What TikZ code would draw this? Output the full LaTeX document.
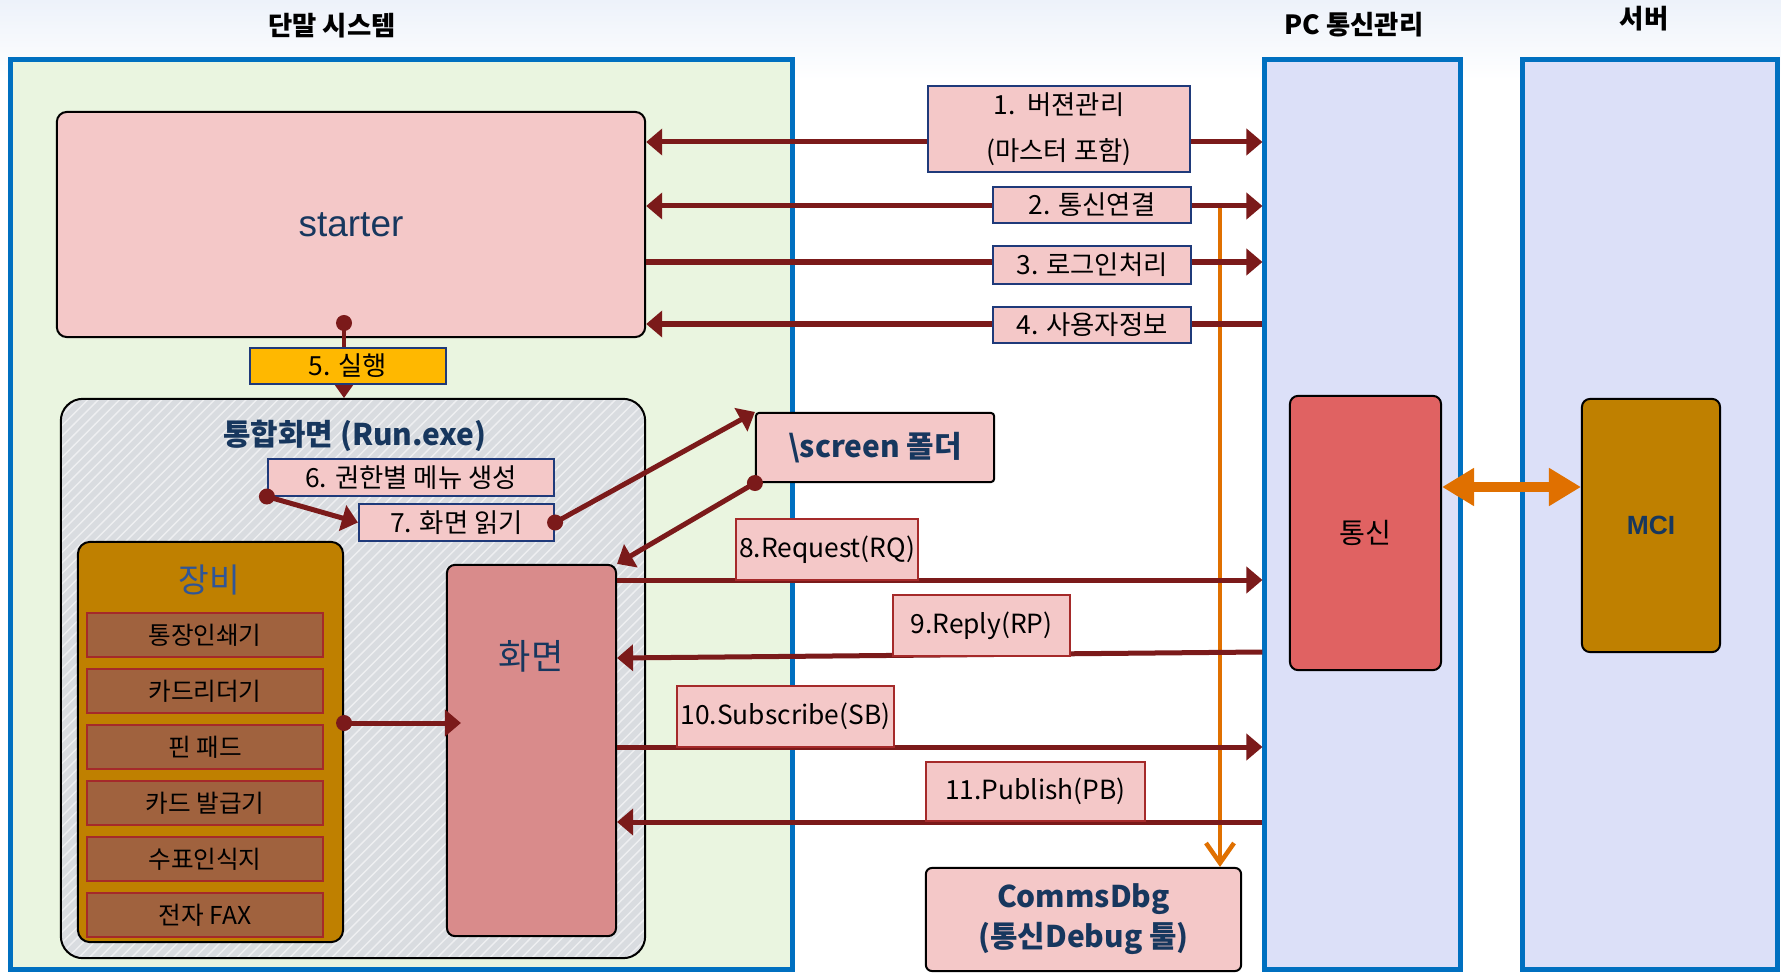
\documentclass[tikz,border=0pt]{standalone}
\usepackage{fontspec}
\setmainfont{Noto Sans CJK KR}
\newfontfamily\arialfont{Liberation Sans}
\usepackage{xcolor}
\usetikzlibrary{arrows.meta,patterns}

\definecolor{panelblue}{HTML}{0070C0}
\definecolor{termgreen}{HTML}{EAF5E0}
\definecolor{pclilac}{HTML}{DCE0F8}
\definecolor{boxpink}{HTML}{F4C8C8}
\definecolor{flowred}{HTML}{7B1A1A}
\definecolor{labelnavy}{HTML}{1F3A7A}
\definecolor{textnavy}{HTML}{17375E}
\definecolor{devblue}{HTML}{2F5597}
\definecolor{runamber}{HTML}{FFB800}
\definecolor{hatchgray}{HTML}{D9DCE0}
\definecolor{devgold}{HTML}{BF8000}
\definecolor{itembrown}{HTML}{A0623E}
\definecolor{itemred}{HTML}{A52A2A}
\definecolor{screenrose}{HTML}{D98B8B}
\definecolor{commred}{HTML}{E06262}
\definecolor{debugorange}{HTML}{E07000}
\definecolor{headsky}{HTML}{EDF2FA}

\begin{document}
\begin{tikzpicture}[x=0.01cm, y=-0.01cm, >={Triangle[length=0.16cm,width=0.26cm]},
    panelbox/.style={draw=panelblue, line width=0.05cm, inner sep=0pt, minimum height=9.09cm},
    titletext/.style={font=\fontsize{7.5}{9}\selectfont\bfseries},
    blockbox/.style={draw=black, line width=0.02cm, inner sep=0pt},
    lblbox/.style={draw=labelnavy, line width=0.02cm, fill=boxpink, inner sep=0pt, font=\fontsize{7.5}{9}\selectfont},
    msgbox/.style={draw=itemred, line width=0.015cm, fill=boxpink, inner sep=0pt, minimum height=0.61cm, font=\fontsize{7.5}{9}\selectfont},
    itembox/.style={draw=itemred, line width=0.02cm, fill=itembrown, inner sep=0pt, minimum width=2.36cm, minimum height=0.44cm, font=\fontsize{7}{8}\selectfont},
    flowline/.style={draw=flowred, line width=0.05cm},
    navytext/.style={text=textnavy, font=\fontsize{8.5}{11.4}\selectfont\bfseries}]

    \useasboundingbox (0,0) rectangle (1781,973);

    % Header band
    \shade[top color=headsky, bottom color=white] (0,0) rectangle (1781,80);

    % System panels
    \node[panelbox, fill=termgreen, minimum width=7.81cm] (term) at (401.5,514.5) {};
    \node[panelbox, fill=pclilac, minimum width=1.95cm] (pc) at (1362.5,514.5) {};
    \node[panelbox, fill=pclilac, minimum width=2.54cm] (srv) at (1650,514.5) {};
    \node[titletext] (tterm) at (332,26) {단말 시스템};
    \node[titletext] (tpc) at (1354,25) {PC 통신관리};
    \node[titletext] (tsrv) at (1644,19) {서버};

    % Starter
    \node[blockbox, fill=boxpink, rounded corners=0.1cm, minimum width=5.88cm, minimum height=2.25cm,
          text=textnavy, font=\arialfont\fontsize{10.5}{12}\selectfont] (starter) at (351,224.5) {starter};

    % Integrated screen container (Run.exe)
    \node[inner sep=0pt, fill=hatchgray, rounded corners=0.22cm, minimum width=5.84cm, minimum height=5.59cm,
          postaction={pattern=north east lines, pattern color=white!55!hatchgray},
          postaction={draw=black, line width=0.02cm}] (cont) at (353,678.5) {};
    \node[navytext] (conttitle) at (355,436) {통합화면 (Run.exe)};

    % Devices
    \node[blockbox, fill=devgold, rounded corners=0.12cm, minimum width=2.65cm, minimum height=4.0cm] (dev) at (210.5,742) {};
    \node[text=devblue, font=\fontsize{9.5}{11}\selectfont] (devtitle) at (209,580) {장비};
    \foreach \t [count=\i] in {통장인쇄기, 카드리더기, 핀 패드, 카드 발급기, 수표인식지, 전자 FAX}
        \node[itembox] (item\i) at (205,{579+56*\i}) {\t};

    % Screen
    \node[blockbox, fill=screenrose, rounded corners=0.08cm, minimum width=1.69cm, minimum height=3.71cm] (scr) at (531.5,750.5) {};
    \node[text=textnavy, font=\fontsize{10}{12}\selectfont] (scrtitle) at (531,656) {화면};

    % Screen folder, debug tool, comms, MCI
    \node[blockbox, fill=boxpink, rounded corners=0.03cm, minimum width=2.38cm, minimum height=0.69cm, navytext] (folder) at (875,447.5) {\textbackslash screen 폴더};
    \node[blockbox, fill=boxpink, rounded corners=0.06cm, minimum width=3.15cm, minimum height=1.03cm, navytext, align=center] (cdbg) at (1083.5,919.5) {CommsDbg\\(통신Debug 툴)};
    \node[blockbox, fill=commred, rounded corners=0.08cm, minimum width=1.51cm, minimum height=2.74cm, font=\fontsize{8}{10}\selectfont] (comm) at (1365.5,533) {통신};
    \node[blockbox, fill=devgold, rounded corners=0.08cm, minimum width=1.38cm, minimum height=2.53cm, text=textnavy, font=\arialfont\fontsize{7.5}{9}\selectfont\bfseries] (mci) at (1651,525.5) {MCI};

    % Tap to the debug tool
    \coordinate (tap) at (1220,206);
    \draw[debugorange, line width=0.045cm, -{Straight Barb[length=0.2cm,width=0.28cm]}] (tap) -- (tap |- cdbg.north);

    % Starter <-> PC comms
    \draw[flowline, <->] (starter.east |- 0,142) -- (pc.west |- 0,142);
    \draw[flowline, <->] (starter.east |- 0,206) -- (pc.west |- 0,206);
    \draw[flowline, ->] (starter.east |- 0,262) -- (pc.west |- 0,262);
    \draw[flowline, <-] (starter.east |- 0,324) -- (pc.west |- 0,324);
    \node[lblbox, minimum width=2.62cm, minimum height=0.86cm, align=center, font=\fontsize{7.5}{13}\selectfont] (m1) at (1059,129) {1.~~버젼관리\\(마스터 포함)};
    \node[lblbox, minimum width=1.97cm, minimum height=0.36cm] (m2) at (1092,205) {2. 통신연결};
    \node[lblbox, minimum width=1.97cm, minimum height=0.37cm] (m3) at (1092,265) {3. 로그인처리};
    \node[lblbox, minimum width=1.97cm, minimum height=0.36cm] (m4) at (1092,325) {4. 사용자정보};

    % Run
    \coordinate (runpt) at (344,323);
    \draw[draw=flowred, line width=0.04cm, -{Triangle[length=0.15cm,width=0.2cm]}] (runpt) -- (runpt |- cont.north);
    \fill[flowred] (runpt) circle (0.08cm);
    \node[lblbox, fill=runamber, minimum width=1.96cm, minimum height=0.36cm] (m5) at (348,366) {5. 실행};

    % Menu and screen loading
    \node[lblbox, minimum width=2.86cm, minimum height=0.36cm] (m6) at (411,477.5) {6. 권한별 메뉴 생성};
    \node[lblbox, minimum width=1.95cm, minimum height=0.37cm] (m7) at (456.5,522.5) {7. 화면 읽기};
    \draw[flowline, ->] (m6.south west) -- (m7.west);
    \fill[flowred] (m6.south west) circle (0.08cm);
    \draw[flowline, ->] (m7.east) -- (folder.north west);
    \fill[flowred] (m7.east) circle (0.08cm);
    \draw[flowline, ->] (folder.south west) -- (scr.north east);
    \fill[flowred] (folder.south west) circle (0.08cm);

    % Devices -> screen
    \coordinate (devpt) at (dev.east |- 0,723);
    \draw[flowline, ->] (devpt) -- ([xshift=0.15cm]devpt -| scr.west);
    \fill[flowred] (devpt) circle (0.08cm);

    % Screen <-> PC comms messages
    \draw[flowline, ->] (scr.east |- 0,580) -- (pc.west |- 0,580);
    \draw[flowline, ->] (pc.west |- 0,652) -- (scr.east |- 0,658);
    \draw[flowline, ->] (scr.east |- 0,747) -- (pc.west |- 0,747);
    \draw[flowline, ->] (pc.west |- 0,822) -- (scr.east |- 0,822);
    \node[msgbox, minimum width=1.82cm] (m8) at (827,549.5) {8.Request(RQ)};
    \node[msgbox, minimum width=1.77cm] (m9) at (981.5,625.5) {9.Reply(RP)};
    \node[msgbox, minimum width=2.17cm] (m10) at (785.5,716.5) {10.Subscribe(SB)};
    \node[msgbox, minimum width=2.19cm, minimum height=0.59cm] (m11) at (1035.5,791.5) {11.Publish(PB)};

    % Comms <-> MCI
    \draw[debugorange, line width=0.1cm, {Triangle[length=0.32cm,width=0.36cm]}-{Triangle[length=0.32cm,width=0.36cm]}] (comm.east |- 0,487) -- (mci.west |- 0,487);
\end{tikzpicture}
\end{document}
